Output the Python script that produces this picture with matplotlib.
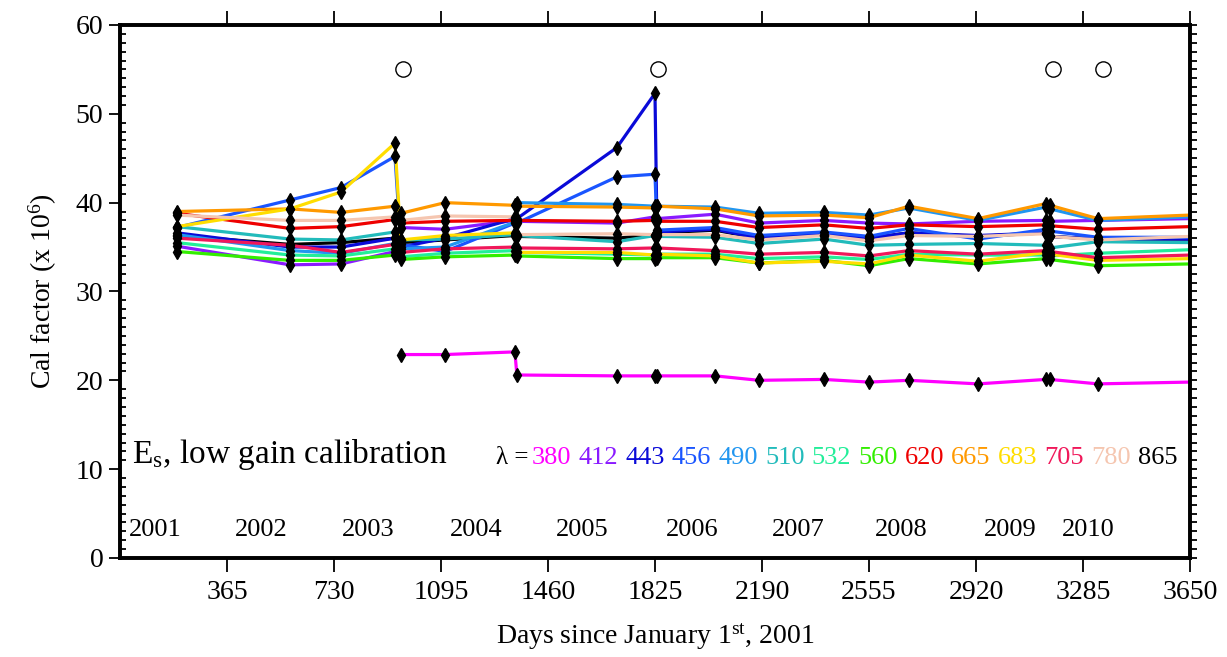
import matplotlib
matplotlib.use("Agg")
import matplotlib.pyplot as plt
from matplotlib.ticker import MultipleLocator

plt.rcParams['font.family'] = ['Liberation Serif', 'DejaVu Serif']
plt.rcParams['mathtext.fontset'] = 'custom'
plt.rcParams['mathtext.rm'] = 'Liberation Serif'
plt.rcParams['mathtext.it'] = 'Liberation Serif:italic'

# observation days (last entry = line extension to the edge, no marker)
days = [194, 580, 754, 938, 958, 1109, 1347, 1354, 1695, 1825, 1832,
        2030, 2180, 2401, 2555, 2691, 2927, 3159, 3172, 3336, 3650]
days_380 = [958, 1109, 1347, 1354, 1695, 1825, 1832, 2030, 2180, 2401,
            2555, 2691, 2927, 3159, 3172, 3336, 3650]

cal_380 = [22.9, 22.9, 23.2, 20.6, 20.5, 20.5, 20.5, 20.5, 20.0, 20.1,
           19.8, 20.0, 19.6, 20.1, 20.1, 19.6, 19.8]
cal_412 = [35.1, 33.0, 33.1, 34.5, 37.2, 37.0, 38.0, 37.9, 37.7, 38.4, 38.2,
           38.7, 37.7, 38.0, 37.7, 37.6, 37.9, 38.0, 37.9, 38.0, 38.2]
cal_443 = [36.6, 35.0, 35.0, 36.0, 35.0, 36.0, 38.2, 38.2, 46.2, 52.3, 36.7,
           37.0, 36.0, 36.4, 36.0, 36.6, 36.3, 36.6, 36.2, 35.9, 35.9]
cal_456 = [37.2, 40.3, 41.7, 45.2, 35.3, 34.5, 37.7, 37.7, 42.9, 43.2, 36.9,
           37.2, 36.3, 36.7, 36.2, 37.1, 35.9, 37.0, 36.8, 36.1, 36.1]
cal_490 = [36.4, 34.6, 34.3, 35.4, 34.8, 35.0, 37.8, 40.0, 39.8, 39.6, 39.6,
           39.5, 38.8, 38.9, 38.6, 39.4, 38.0, 39.5, 39.3, 38.0, 38.4]
cal_510 = [37.3, 35.9, 35.8, 36.7, 35.8, 35.9, 36.4, 36.3, 35.6, 36.3, 36.2,
           36.1, 35.4, 35.9, 35.2, 35.3, 35.4, 35.2, 34.9, 35.6, 35.5]
cal_532 = [35.5, 34.1, 34.0, 34.8, 33.9, 34.3, 34.6, 34.4, 34.2, 34.1, 34.2,
           34.2, 33.7, 33.9, 33.6, 34.2, 34.1, 34.1, 34.0, 34.3, 34.7]
cal_560 = [34.5, 33.5, 33.5, 34.1, 33.6, 33.9, 34.1, 34.0, 33.7, 33.7, 33.8,
           33.8, 33.2, 33.5, 32.9, 33.7, 33.1, 33.7, 33.6, 32.9, 33.1]
cal_620 = [38.8, 37.1, 37.3, 38.1, 37.7, 37.9, 38.0, 38.0, 37.9, 38.0, 37.9,
           37.9, 37.2, 37.5, 37.1, 37.5, 37.3, 37.5, 37.4, 37.0, 37.3]
cal_665 = [39.0, 39.3, 38.9, 39.6, 38.8, 40.0, 39.7, 39.6, 39.5, 39.4, 39.6,
           39.3, 38.5, 38.6, 38.3, 39.6, 38.2, 39.9, 39.7, 38.2, 38.6]
cal_683 = [37.3, 39.3, 41.2, 46.7, 35.8, 36.3, 36.6, 34.4, 34.4, 34.1, 34.2,
           34.0, 33.2, 33.4, 33.1, 34.1, 33.4, 34.4, 34.2, 33.5, 33.7]
cal_705 = [36.0, 35.2, 34.4, 35.3, 34.4, 34.8, 35.0, 34.9, 34.8, 34.9, 34.9,
           34.6, 34.2, 34.4, 34.0, 34.6, 34.2, 34.6, 34.5, 33.8, 34.1]
cal_780 = [38.6, 38.0, 38.0, 38.4, 38.0, 38.5, 38.4, 36.4, 36.5, 36.4, 36.4,
           36.4, 35.8, 36.3, 35.7, 36.3, 36.2, 36.5, 36.2, 35.8, 36.2]
cal_865 = [36.3, 35.3, 35.5, 36.0, 35.5, 35.8, 36.3, 36.2, 36.0, 36.4, 36.6,
           36.9, 36.0, 36.4, 36.0, 36.6, 36.2, 36.6, 36.2, 35.9, 35.9]

wavelengths = ['380', '412', '443', '456', '490', '510', '532', '560',
               '620', '665', '683', '705', '780', '865']
colors = ['#ff00ff', '#8a1aff', '#0a0ad8', '#1a55ff', '#2196f0', '#22bbbb',
          '#22ee99', '#33ee00', '#ee0000', '#ff9900', '#ffdd00', '#f0185a',
          '#f5c6b0', '#000000']
series = [cal_380, cal_412, cal_443, cal_456, cal_490, cal_510, cal_532,
          cal_560, cal_620, cal_665, cal_683, cal_705, cal_780, cal_865]

# calibration change markers
change_days = [965, 1835, 3183, 3353]
change_y = [55, 55, 55, 55]

year_labels = ['2001', '2002', '2003', '2004', '2005', '2006', '2007',
               '2008', '2009', '2010']
year_pos = [119, 481, 846, 1215, 1576, 1951, 2313, 2664, 3036, 3302]

fig = plt.figure(figsize=(12.27, 6.57), dpi=100)
ax = fig.add_axes([0.0978, 0.1507, 0.872, 0.8113])

for wl, col, vals in zip(wavelengths, colors, series):
    x = days_380 if wl == '380' else days
    z = 1.5 if wl == '865' else 2
    ax.plot(x, vals, color=col, lw=2.3, zorder=z)
    ax.plot(x[:-1], vals[:-1], ls='none', marker='d', ms=7,
            color='black', zorder=3)

ax.plot(change_days, change_y, ls='none', marker='o', ms=11,
        mfc='none', mec='black', mew=1.0)

for lab, xp in zip(year_labels, year_pos):
    ax.text(xp, 3.2, lab, fontsize=19, ha='center', va='center')

ax.text(40, 11.6, r'E$_\mathrm{s}$, low gain calibration', fontsize=24,
        ha='left', va='center')

# wavelength colour key
ax.text(1392, 11.2, 'λ =', fontsize=18, ha='right', va='center')
for i, (wl, col) in enumerate(zip(wavelengths, colors)):
    ax.text(1405 + i * 159, 11.2, wl, color=col, fontsize=19,
            ha='left', va='center')

ax.set_xlim(0, 3650)
ax.set_ylim(0, 60)
ax.set_xticks([365 * k for k in range(1, 11)])
ax.set_yticks(range(0, 61, 10))
ax.yaxis.set_minor_locator(MultipleLocator(1))
ax.tick_params(axis='x', which='major', direction='out', length=10,
               width=1.3, top=True, labeltop=False, labelsize=20, pad=6)
ax.tick_params(axis='y', which='major', direction='out', length=8,
               width=1.3, labelsize=20, pad=4)
ax.tick_params(axis='y', which='minor', direction='in', length=4,
               width=1.3)
for s in ax.spines.values():
    s.set_linewidth(2.6)

# right-hand scale: ticks pointing outward, no labels
axr = ax.twinx()
axr.set_ylim(0, 60)
axr.set_yticks(range(0, 61, 10))
axr.yaxis.set_minor_locator(MultipleLocator(1))
axr.tick_params(axis='y', which='both', direction='out', length=5,
                width=1.3, labelright=False)
for s in axr.spines.values():
    s.set_linewidth(2.6)

ax.set_ylabel(r'Cal factor (x 10$^6$)', fontsize=20, labelpad=12)
ax.set_xlabel(r'Days since January 1$^\mathrm{st}$, 2001', fontsize=20,
              labelpad=12)

fig.savefig('out.png', dpi=100)
